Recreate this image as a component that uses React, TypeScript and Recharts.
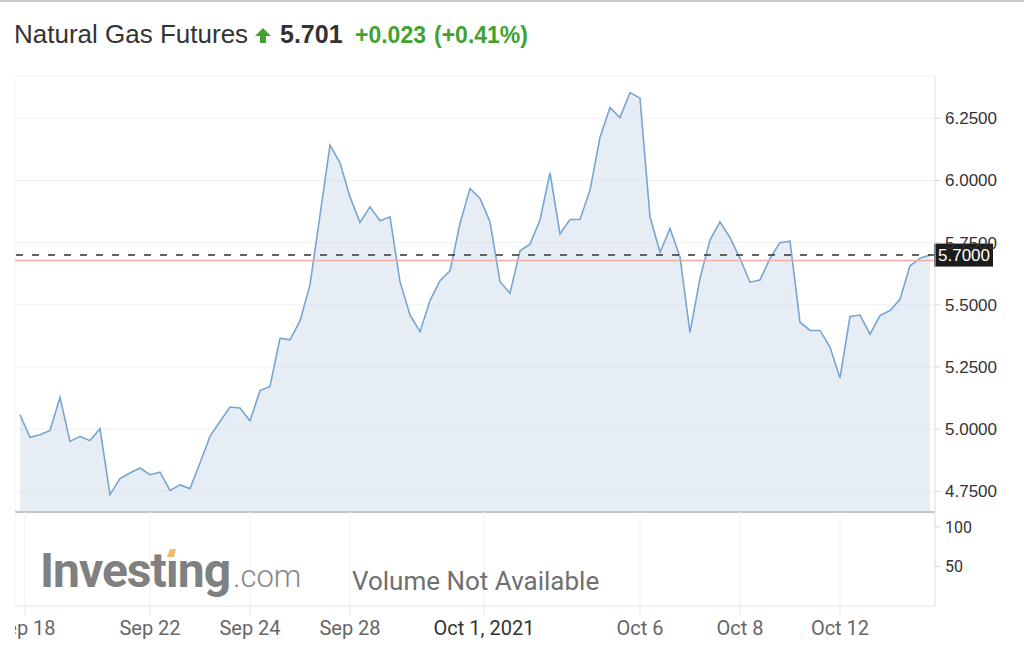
import React from 'react';
import {
  ComposedChart,
  Area,
  XAxis,
  YAxis,
  CartesianGrid,
  ReferenceLine,
} from 'recharts';

// ---- data ----
const prices: number[] = [
  5.058, 4.967, 4.978, 4.995, 5.128, 4.951, 4.971, 4.954, 5.002, 4.737,
  4.801, 4.824, 4.844, 4.817, 4.827, 4.754, 4.776, 4.761, 4.864, 4.971,
  5.031, 5.089, 5.085, 5.034, 5.155, 5.172, 5.366, 5.359, 5.435, 5.58,
  5.86, 6.142, 6.071, 5.934, 5.831, 5.894, 5.838, 5.854, 5.593, 5.459,
  5.392, 5.517, 5.597, 5.637, 5.827, 5.968, 5.928, 5.834, 5.593, 5.547,
  5.717, 5.744, 5.841, 6.031, 5.785, 5.843, 5.843, 5.961, 6.173, 6.293,
  6.253, 6.353, 6.331, 5.854, 5.711, 5.807, 5.693, 5.388, 5.607, 5.76,
  5.834, 5.77, 5.687, 5.591, 5.6, 5.687, 5.75, 5.756, 5.43, 5.397,
  5.397, 5.33, 5.206, 5.453, 5.459, 5.382, 5.457, 5.477, 5.522, 5.657,
  5.687, 5.7,
];
const xTickPositions: number[] = [0.5, 13, 23, 33, 46.4, 62, 72, 82];
const xTickLabels: string[] = ['Sep 18', 'Sep 22', 'Sep 24', 'Sep 28', 'Oct 1, 2021', 'Oct 6', 'Oct 8', 'Oct 12'];
const priceTicks: number[] = [4.75, 5.0, 5.25, 5.5, 5.75, 6.0, 6.25];
const volumeTicks: number[] = [50, 100];
const priceFloor = 4.667;
const lastPrice = 5.7;
const prevClose = 5.678;
const headerTitle = 'Natural Gas Futures';
const headerPrice = '5.701';
const headerChange = '+0.023';
const headerPct = '(+0.41%)';

const rows = prices.map((p, i) => ({ i, price: p }));

const GREEN = '#43a22f';

const DateTick = (props: any) => {
  const { x, y, payload } = props;
  const idx = xTickPositions.indexOf(payload.value);
  const label = idx >= 0 ? xTickLabels[idx] : '';
  const strong = label.includes(',');
  return (
    <text
      x={x}
      y={y}
      dy="0.71em"
      textAnchor="middle"
      fontFamily="Roboto"
      fontSize={20}
      fill={strong ? '#333' : '#666'}
    >
      {label}
    </text>
  );
};

const PriceLabel = (props: any) => {
  const vb = props.viewBox || {};
  const bx = vb.x + vb.width - 1;
  const by = vb.y - 11.5;
  return (
    <g>
      <rect x={bx} y={by} width={59} height={23} fill="#1c1c1c" />
      <text x={bx + 4} y={by + 17.5} fill="#fff" fontSize={17} fontFamily="Liberation Sans">
        {lastPrice.toFixed(4)}
      </text>
    </g>
  );
};

export default function App() {
  return (
    <div style={{ position: 'absolute', left: 0, top: 0, width: 1024, height: 656, background: '#fff', overflow: 'hidden' }}>
      <div style={{ position: 'absolute', left: 0, top: 0, width: 1024, height: 0, borderTop: '2px solid #c8c8c8' }} />

      <div style={{ position: 'absolute', left: 15, top: 60, width: 1009, height: 453 }}>
        <ComposedChart width={1009} height={453} data={rows} margin={{ top: 16, right: 0, left: 0, bottom: 1 }}>
          <CartesianGrid stroke="#eff1f4" />
          <XAxis
            dataKey="i"
            type="number"
            domain={[-0.5, 91.5]}
            ticks={xTickPositions}
            height={0}
            tick={false}
            tickLine={false}
            axisLine={false}
            allowDataOverflow
          />
          <YAxis
            orientation="right"
            domain={[priceFloor, 6.42]}
            ticks={priceTicks}
            width={89}
            allowDataOverflow
            interval={0}
            tickFormatter={(v: number) => v.toFixed(4)}
            axisLine={{ stroke: '#e2e5ea' }}
            tickLine={{ stroke: '#d8d8d8' }}
            tickSize={5}
            tickMargin={5}
            tick={{ fill: '#333', fontSize: 17, fontFamily: 'Liberation Sans' }}
          />
          <Area
            type="linear"
            dataKey="price"
            baseValue={priceFloor}
            stroke="#78a5d1"
            strokeWidth={1.6}
            fill="#c5d3e6"
            fillOpacity={0.42}
            isAnimationActive={false}
            dot={false}
            activeDot={false}
          />
          <ReferenceLine y={priceFloor} stroke="#c4c4c4" strokeWidth={2} />
          <ReferenceLine y={prevClose} stroke="#f2aaa4" strokeWidth={1.5} />
          <ReferenceLine
            y={lastPrice}
            stroke="#333"
            strokeWidth={1.5}
            strokeDasharray="7 9"
            label={<PriceLabel />}
          />
        </ComposedChart>
      </div>

      <div style={{ position: 'absolute', left: 15, top: 512, width: 1009, height: 144 }}>
        <ComposedChart width={1009} height={144} data={rows} margin={{ top: 0, right: 0, left: 0, bottom: 0 }}>
          <CartesianGrid horizontal={false} stroke="#eef0f3" />
          <XAxis
            dataKey="i"
            type="number"
            domain={[-0.5, 91.5]}
            ticks={xTickPositions}
            interval={0}
            height={50}
            tickSize={9}
            tickMargin={6}
            axisLine={{ stroke: '#e2e5ea' }}
            tickLine={{ stroke: '#e2e5ea' }}
            tick={<DateTick />}
            allowDataOverflow
          />
          <YAxis
            orientation="right"
            domain={[0, 119]}
            ticks={volumeTicks}
            interval={0}
            width={89}
            axisLine={{ stroke: '#e2e5ea' }}
            tickLine={{ stroke: '#d8d8d8' }}
            tickSize={5}
            tickMargin={5}
            tick={{ fill: '#333', fontSize: 16, fontFamily: 'Roboto' }}
            allowDataOverflow
          />
        </ComposedChart>
      </div>

      <svg width={1024} height={656} style={{ position: 'absolute', left: 0, top: 0, pointerEvents: 'none' }}>
        <text x={14} y={43} fontFamily="Liberation Sans" fontSize={26} fill="#333">{headerTitle}</text>
        <polygon points="263,28 271,36 266,36 266,43 260,43 260,36 255,36" fill={GREEN} />
        <text x={280} y={43} fontFamily="Liberation Sans" fontWeight="bold" fontSize={25} fill="#333">{headerPrice}</text>
        <text x={355} y={43} fontFamily="Liberation Sans" fontWeight="bold" fontSize={23} fill={GREEN}>{headerChange}</text>
        <text x={434} y={43} fontFamily="Liberation Sans" fontWeight="bold" fontSize={23} fill={GREEN}>{headerPct}</text>

        <text x={40} y={587} fontFamily="Roboto" fontWeight="bold" fontSize={48} letterSpacing={-1} fill="#808080">Investıng</text>
        <polygon points="167,557 170,549 176,549 174,557" fill="#f5b96c" />
        <text x={233} y={587} fontFamily="Roboto" fontWeight={300} fontSize={31} fill="#888">.com</text>

        <text x={352} y={590} fontFamily="Roboto" fontSize={26} fill="#707070">Volume Not Available</text>
      </svg>
    </div>
  );
}
